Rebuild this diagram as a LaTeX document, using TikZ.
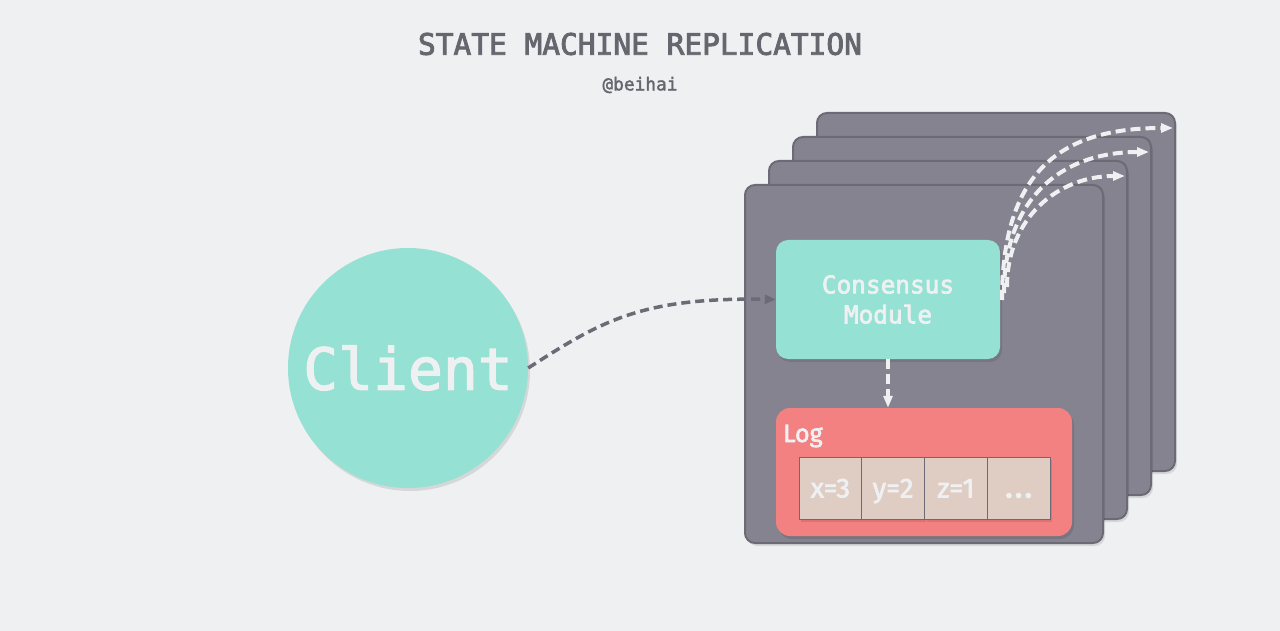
\documentclass[tikz,border=0pt]{standalone}
\usepackage{fontspec}
\setmonofont{DejaVu Sans Mono}
\newfontfamily\monomed[FakeBold=3]{DejaVu Sans Mono}
\newfontfamily\monosemi[FakeBold=2]{DejaVu Sans Mono}
\newfontfamily\firamed[FakeBold=2.5]{Fira Sans}
\usetikzlibrary{arrows.meta,shadows}
\definecolor{bg}{HTML}{EFF0F2}
\definecolor{ink}{HTML}{67666F}
\definecolor{boxfill}{HTML}{85838F}
\definecolor{boxline}{HTML}{6B6A75}
\definecolor{teal}{HTML}{95E1D3}
\definecolor{salmon}{HTML}{F38181}
\definecolor{cellfill}{HTML}{DFCDC3}
\definecolor{paper}{HTML}{EEF0F1}
\tikzset{
  softshadow/.style={drop shadow={shadow xshift=2pt, shadow yshift=-3pt, opacity=0.10, fill=black}},
  serverbox/.style={draw=boxline, fill=boxfill, line width=2pt, rounded corners=10pt,
    minimum width=358pt, minimum height=358pt, inner sep=0pt, softshadow},
  consbox/.style={fill=teal, rounded corners=12pt, minimum width=224pt, minimum height=119pt,
    inner sep=0pt, align=center, text=paper, font=\monomed\fontsize{24.4}{30}\selectfont, softshadow},
  logbox/.style={fill=salmon, rounded corners=14pt, minimum width=296pt, minimum height=128pt,
    inner sep=0pt, softshadow},
  cell/.style={draw=boxline, line width=0.8pt, fill=cellfill, minimum width=62.75pt, minimum height=62pt,
    inner sep=0pt, text height=20pt, text depth=1pt, text=paper,
    font=\firamed\fontsize{27.5}{30}\selectfont, softshadow},
  darkarrow/.style={draw=boxline, line width=3.5pt, dash pattern=on 9pt off 5pt,
    -{Triangle[length=11pt,width=9pt]}},
  whitearrow/.style={draw=paper, line width=4pt, dash pattern=on 10pt off 5pt,
    -{Triangle[length=12pt,width=9pt]}},
}
\begin{document}
\begin{tikzpicture}[x=1pt,y=-1pt]
\fill[bg] (0,0) rectangle (1280,631);
\useasboundingbox (0,0) rectangle (1280,631);

% title
\node[text=ink, font=\monomed\fontsize{29.5}{32}\selectfont] (title) at (640,44) {STATE MACHINE REPLICATION};
\node[text=ink, font=\monosemi\fontsize{17.8}{20}\selectfont] (author) at (640,85) {@beihai};

% client
\node[circle, fill=teal, minimum size=240pt, inner sep=0pt, text=paper,
  font=\monosemi\fontsize{58}{60}\selectfont, softshadow] (client) at (408,368) {Client};

% server stack
\node[serverbox] (s4) at (996,292) {};
\node[serverbox] (s3) at (972,316) {};
\node[serverbox] (s2) at (948,340) {};
\node[serverbox] (s1) at (924,364) {};

\node[consbox] (cons) at (888,299.5) {Consensus\\Module};
\node[logbox] (log) at (924,472) {};
\node[anchor=base west, text=paper, font=\firamed\fontsize{25}{28}\selectfont, inner sep=0pt] (logtitle) at (783,442) {Log};

\node[cell] (c1) at (830.4,488) {x=3};
\node[cell] (c2) at (893.1,488) {y=2};
\node[cell] (c3) at (955.9,488) {z=1};
\node[cell] (c4) at (1018.6,488) {{\fontsize{34}{30}\selectfont.\kern1.5pt.\kern1.5pt.}};

% arrows
\draw[darkarrow] (client.east) .. controls (600,322) and (640,297) .. (cons.west);
\draw[whitearrow] (cons.south) -- (cons.south |- log.north);

\coordinate (a1) at (1002,300);
\coordinate (a2) at (1004,293);
\coordinate (a3) at (1007,287);
\coordinate (e1) at (1173,128);
\coordinate (e2) at (1149,152);
\coordinate (e3) at (1125,176);
\draw[whitearrow] (a1) .. controls (1002,172) and (1060,128) .. (e1);
\draw[whitearrow] (a2) .. controls (1004,200) and (1060,152) .. (e2);
\draw[whitearrow] (a3) .. controls (1007,218) and (1058,176) .. (e3);
\end{tikzpicture}
\end{document}
